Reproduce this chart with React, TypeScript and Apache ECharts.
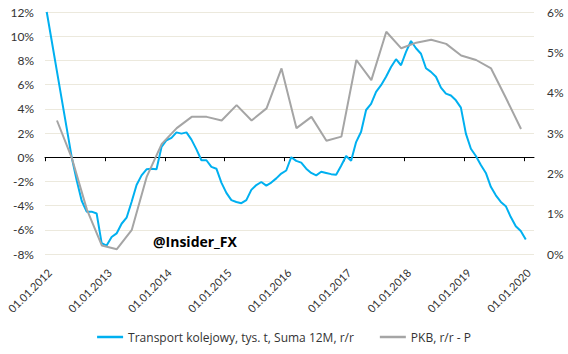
import React, { useEffect, useRef } from "react";
import * as echarts from "echarts";

const YEARS = [2012, 2013, 2014, 2015, 2016, 2017, 2018, 2019, 2020];
const TICK_LABELS = YEARS.map((y) => `01.01.${y}`);

const RAIL_NAME = "Transport kolejowy, tys. t, Suma 12M, r/r";
const GDP_NAME = "PKB, r/r - P";

// monthly, Jan 2012 .. Jan 2020 (left axis, %)
const RAIL = [
  12.0, 9.6, 7.2, 4.8, 2.4, 0.0, -1.9, -3.6, -4.5, -4.5, -4.65, -7.1,
  -7.3, -6.6, -6.3, -5.5, -5.0, -3.7, -2.3, -1.5, -1.0, -0.95, -1.0, 0.85,
  1.4, 1.6, 2.05, 1.95, 2.05, 1.45, 0.65, -0.25, -0.25, -0.8, -0.95, -2.1,
  -2.95, -3.55, -3.7, -3.8, -3.55, -2.7, -2.3, -2.05, -2.35, -2.1, -1.75, -1.35,
  -1.1, 0.0, -0.3, -0.45, -0.95, -1.3, -1.5, -1.2, -1.3, -1.4, -1.45, -0.7,
  0.1, -0.3, 1.25, 2.1, 3.9, 4.4, 5.4, 5.95, 6.65, 7.45, 8.1, 7.6,
  8.7, 9.6, 9.0, 8.55, 7.35, 7.05, 6.65, 5.75, 5.25, 5.1, 4.7, 4.1,
  1.95, 0.7, 0.1, -0.65, -1.3, -2.45, -3.15, -3.7, -4.05, -4.95, -5.7, -6.1,
  -6.8,
];

// quarterly, Q1 2012 .. Q4 2019 (right axis, %)
const GDP = [
  3.31, 2.37, 1.1, 0.21, 0.12, 0.6, 1.92, 2.73,
  3.12, 3.4, 3.4, 3.31, 3.69, 3.31, 3.61, 4.6,
  3.12, 3.4, 2.81, 2.91, 4.81, 4.31, 5.51, 5.1,
  5.24, 5.31, 5.21, 4.92, 4.81, 4.6, 3.86, 3.1,
];

const LEFT_MIN = -8;
const LEFT_MAX = 12;
const LEFT_STEP = 2;
const RIGHT_MIN = 0;
const RIGHT_MAX = 6;
const RIGHT_STEP = 1;

const FONT = "Lato";
const LEGEND_FONT = "Open Sans";
const TEXT_COLOR = "#333333";

export default function App() {
  const ref = useRef<HTMLDivElement>(null);
  useEffect(() => {
    const chart = echarts.init(ref.current!, null, { renderer: "svg" });
    const tickValues = YEARS.map((_, i) => i * 12);
    chart.setOption({
      animation: false,
      backgroundColor: "#ffffff",
      textStyle: { fontFamily: FONT },
      grid: {
        left: 45,
        right: 34,
        top: 12,
        bottom: 100,
        containLabel: false,
        outerBoundsMode: "none",
      },
      xAxis: [
        {
          type: "value",
          min: 0,
          max: 98,
          position: "bottom",
          axisLine: { show: false },
          axisTick: { show: false },
          splitLine: { show: false },
          axisLabel: {
            customValues: tickValues,
            rotate: 45,
            margin: 12,
            verticalAlign: "top",
            lineHeight: 13,
            fontSize: 11,
            fontFamily: FONT,
            color: TEXT_COLOR,
            formatter: (v: number) => TICK_LABELS[Math.round(v / 12)] ?? "",
          },
        },
        {
          type: "value",
          min: 0,
          max: 98,
          position: "bottom",
          axisLine: {
            show: true,
            onZero: true,
            onZeroAxisIndex: 0,
            lineStyle: { color: "#000000", width: 1 },
          },
          axisTick: {
            show: true,
            customValues: tickValues,
            length: 4,
            lineStyle: { color: "#000000", width: 1 },
          },
          axisLabel: { show: false },
          splitLine: { show: false },
        },
      ],
      yAxis: [
        {
          type: "value",
          min: LEFT_MIN,
          max: LEFT_MAX,
          interval: LEFT_STEP,
          position: "left",
          axisLine: { show: false },
          axisTick: { show: false },
          axisLabel: {
            formatter: "{value}%",
            margin: 11,
            fontSize: 12,
            fontFamily: FONT,
            color: TEXT_COLOR,
          },
          splitLine: { show: true, lineStyle: { color: "#ECE9DD", width: 1 } },
        },
        {
          type: "value",
          min: RIGHT_MIN,
          max: RIGHT_MAX,
          interval: RIGHT_STEP,
          position: "right",
          axisLine: { show: false },
          axisTick: { show: false },
          axisLabel: {
            formatter: "{value}%",
            margin: 13,
            fontSize: 12,
            fontFamily: FONT,
            color: TEXT_COLOR,
          },
          splitLine: { show: false },
        },
      ],
      legend: {
        top: 326,
        left: "center",
        icon: "rect",
        itemWidth: 26,
        itemHeight: 2.5,
        itemGap: 26,
        textStyle: { fontFamily: LEGEND_FONT, fontSize: 12, color: TEXT_COLOR },
        data: [RAIL_NAME, GDP_NAME],
      },
      graphic: [
        {
          type: "text",
          left: 153,
          top: 234,
          style: {
            text: "@Insider_FX",
            font: 'bold 14px "Open Sans"',
            fill: "#000000",
          },
        },
      ],
      series: [
        {
          name: RAIL_NAME,
          type: "line",
          xAxisIndex: 0,
          yAxisIndex: 0,
          data: RAIL.map((v, i) => [i + 0.35, v]),
          symbol: "none",
          lineStyle: { color: "#00B0F0", width: 2 },
          itemStyle: { color: "#00B0F0" },
        },
        {
          name: GDP_NAME,
          type: "line",
          xAxisIndex: 0,
          yAxisIndex: 1,
          data: GDP.map((v, k) => [3 * k + 2.4, v]),
          symbol: "none",
          lineStyle: { color: "#A5A5A5", width: 2 },
          itemStyle: { color: "#A5A5A5" },
        },
      ],
    });
    return () => chart.dispose();
  }, []);
  return (
    <div
      ref={ref}
      style={{ position: "absolute", left: 0, top: 0, width: 568, height: 354 }}
    />
  );
}
